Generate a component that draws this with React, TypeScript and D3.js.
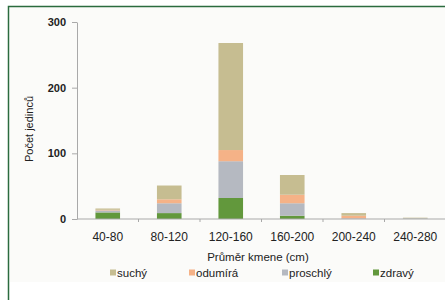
import { useRef, useEffect } from "react";
import * as d3 from "d3";

const categories = ["40-80", "80-120", "120-160", "160-200", "200-240", "240-280"];
const seriesNames = ["zdravý", "proschlý", "odumírá", "suchý"];
const zdravy = [10, 9, 32, 5, 0, 0];
const proschly = [3, 15, 56, 19, 1, 1];
const odumira = [1, 6, 17, 13, 4, 0];
const suchy = [2, 21, 163, 30, 4, 1];
const yTicks = [0, 100, 200, 300];
const legendOrder = ["suchý", "odumírá", "proschlý", "zdravý"];

const colors: Record<string, string> = {
  "zdravý": "#62983c",
  "proschlý": "#b5b9c1",
  "odumírá": "#f5b287",
  "suchý": "#c6bd91",
};

export default function App() {
  const svgRef = useRef<SVGSVGElement>(null);

  useEffect(() => {
    const svg = svgRef.current;
    if (!svg) return;

    const width = 445;
    const height = 300;
    const margin = { top: 22, left: 77, bottom: 81 };
    const bandW = 61.5;

    const x = d3
      .scaleBand<string>()
      .domain(categories)
      .range([margin.left, margin.left + bandW * categories.length])
      .paddingInner(0.6)
      .paddingOuter(0.3);

    const y = d3.scaleLinear().domain([0, 300]).range([height - margin.bottom, margin.top]);

    const rows = categories.map((c, i) => ({
      cat: c,
      "zdravý": zdravy[i],
      "proschlý": proschly[i],
      "odumírá": odumira[i],
      "suchý": suchy[i],
    }));
    const stack = d3.stack<any>().keys(seriesNames)(rows);

    const sel = d3.select(svg);
    sel.selectAll("*").remove();
    sel.attr("width", width).attr("height", height);

    const font = "'Liberation Sans', Arial, sans-serif";
    const ink = "#222";

    // background + frame
    sel.append("rect").attr("width", width).attr("height", height).attr("fill", "#ffffff");
    sel.append("rect").attr("x", 10).attr("y", 7).attr("width", 440).attr("height", 275).attr("fill", "#fbfbf9");
    sel.append("path")
      .attr("d", `M8.5,${height} V6.5 H${width}`)
      .attr("fill", "none")
      .attr("stroke", "#2b6b3e")
      .attr("stroke-width", 1.5);

    // bars
    sel.append("g")
      .selectAll("g")
      .data(stack)
      .join("g")
      .attr("fill", (d) => colors[d.key])
      .selectAll("rect")
      .data((d) => d)
      .join("rect")
      .attr("x", (d) => x(d.data.cat)!)
      .attr("width", x.bandwidth())
      .attr("y", (d) => y(d[1]))
      .attr("height", (d) => y(d[0]) - y(d[1]));

    // y axis
    const gy = sel.append("g").attr("transform", `translate(${margin.left},0)`);
    gy.call(d3.axisLeft(y).tickValues(yTicks).tickSize(5).tickSizeOuter(0).tickPadding(6))
      .call((g) => g.selectAll("line,path").attr("stroke", "#a9a9a9"))
      .call((g) =>
        g.selectAll("text")
          .attr("fill", ink)
          .attr("font-size", "11px")
          .attr("font-weight", "bold")
          .attr("font-family", font)
      );

    // x axis
    const x0 = height - margin.bottom;
    const gx = sel.append("g").attr("transform", `translate(0,${x0})`);
    gx.append("line")
      .attr("x1", margin.left)
      .attr("x2", margin.left + bandW * categories.length)
      .attr("stroke", "#a9a9a9");
    gx.selectAll("line.tk")
      .data(categories.slice(1))
      .join("line")
      .attr("class", "tk")
      .attr("x1", (d) => x(d)! - x.step() * x.paddingInner() / 2)
      .attr("x2", (d) => x(d)! - x.step() * x.paddingInner() / 2)
      .attr("y1", 0)
      .attr("y2", 3)
      .attr("stroke", "#a9a9a9");
    gx.selectAll("text")
      .data(categories)
      .join("text")
      .attr("x", (d) => x(d)! + x.bandwidth() / 2)
      .attr("y", 22)
      .attr("text-anchor", "middle")
      .attr("fill", ink)
      .attr("font-size", "12px")
      .attr("font-family", font)
      .text((d) => d);

    // axis titles
    sel.append("text")
      .attr("x", 258)
      .attr("y", 261)
      .attr("text-anchor", "middle")
      .attr("fill", ink)
      .attr("font-size", "11.5px")
      .attr("font-family", font)
      .text("Průměr kmene (cm)");
    sel.append("text")
      .attr("transform", `translate(33,129) rotate(-90)`)
      .attr("text-anchor", "middle")
      .attr("fill", ink)
      .attr("font-size", "11px")
      .attr("font-family", font)
      .text("Počet jedinců");

    // legend
    const legX = [110, 189, 282, 373];
    const lg = sel.append("g").attr("transform", "translate(0,273)");
    legendOrder.forEach((k, i) => {
      lg.append("rect").attr("x", legX[i]).attr("y", -3.5).attr("width", 6).attr("height", 6).attr("fill", colors[k]);
      lg.append("text")
        .attr("x", legX[i] + 7)
        .attr("y", 4)
        .attr("fill", ink)
        .attr("font-size", "11.5px")
        .attr("font-family", font)
        .text(k);
    });
  }, []);

  return <svg ref={svgRef} style={{ position: "fixed", left: 0, top: 0 }} />;
}
